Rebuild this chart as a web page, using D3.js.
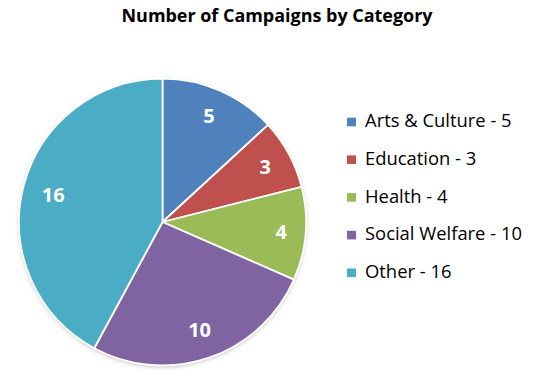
<!DOCTYPE html>
<html>
<head>
<meta charset="utf-8">
<script src="https://cdn.jsdelivr.net/npm/d3@7"></script>
<style>
  html, body { margin: 0; padding: 0; background: #fff; }
  svg { display: block; }
</style>
</head>
<body>
<svg id="chart" width="542" height="373"></svg>
<script>
// Campaign counts per category
const categories = ["Arts & Culture", "Education", "Health", "Social Welfare", "Other"];
const counts = [5, 3, 4, 10, 16];
const colors = ["#4F81BD", "#C0504D", "#9BBB59", "#8064A2", "#4BACC6"];
const title = "Number of Campaigns by Category";

const font = "'Open Sans', sans-serif";
const svg = d3.select("#chart");

svg.append("text")
  .attr("x", 277)
  .attr("y", 22.3)
  .attr("text-anchor", "middle")
  .attr("textLength", 311)
  .attr("lengthAdjust", "spacingAndGlyphs")
  .style("font-family", font)
  .style("font-weight", "bold")
  .style("font-size", "17px")
  .attr("fill", "#000")
  .text(title);

const cx = 162.5, cy = 222, R = 143.5;

const defs = svg.append("defs");
const shadow = defs.append("filter").attr("id", "shadow")
  .attr("x", "-10%").attr("y", "-10%").attr("width", "120%").attr("height", "125%");
shadow.append("feDropShadow")
  .attr("dx", 0).attr("dy", 1.5).attr("stdDeviation", 2)
  .attr("flood-color", "#000").attr("flood-opacity", 0.25);

const color = d3.scaleOrdinal().domain(categories).range(colors);

const pie = d3.pie().sort(null).value((d, i) => counts[i]);
const arcs = pie(categories);
const arc = d3.arc().innerRadius(0).outerRadius(R);

const g = svg.append("g").attr("transform", `translate(${cx},${cy})`);

g.append("circle").attr("r", R).attr("fill", "#fff").attr("filter", "url(#shadow)");

g.selectAll("path.slice")
  .data(arcs)
  .join("path")
  .attr("class", "slice")
  .attr("d", arc)
  .attr("fill", d => color(d.data))
  .attr("stroke", "#fff")
  .attr("stroke-width", 1.8)
  .attr("stroke-linejoin", "round");

// Value labels sit near the outer edge, pulled inward by how far the
// label box reaches along the slice's middle direction.
const labels = g.selectAll("text.val")
  .data(arcs)
  .join("text")
  .attr("class", "val")
  .attr("text-anchor", "middle")
  .attr("dy", "0.36em")
  .style("font-family", font)
  .style("font-weight", "bold")
  .style("font-size", "20px")
  .attr("fill", "#fff")
  .text(d => d.value);

const edge = R - 17.7;
labels.attr("transform", function(d) {
  const a = (d.startAngle + d.endAngle) / 2;
  const bb = this.getBBox();
  const hw = bb.width / 2, hh = 8.3;
  const reach = hw * Math.abs(Math.sin(a)) + hh * Math.abs(Math.cos(a));
  const r = edge - reach;
  return `translate(${r * Math.sin(a)},${-r * Math.cos(a)})`;
});

// Legend
const legend = svg.append("g").attr("transform", "translate(347,122)");
const rowStep = 37.7;
const rows = legend.selectAll("g.row")
  .data(categories)
  .join("g")
  .attr("class", "row")
  .attr("transform", (d, i) => `translate(0,${i * rowStep})`);

rows.append("rect")
  .attr("x", 0).attr("y", -4.3)
  .attr("width", 9).attr("height", 8.6)
  .attr("fill", d => color(d));

rows.append("text")
  .attr("x", 18)
  .attr("y", 5.3)
  .style("font-family", font)
  .style("font-size", "18.4px")
  .attr("fill", "#000")
  .text((d, i) => `${d} - ${counts[i]}`);
</script>
</body>
</html>
